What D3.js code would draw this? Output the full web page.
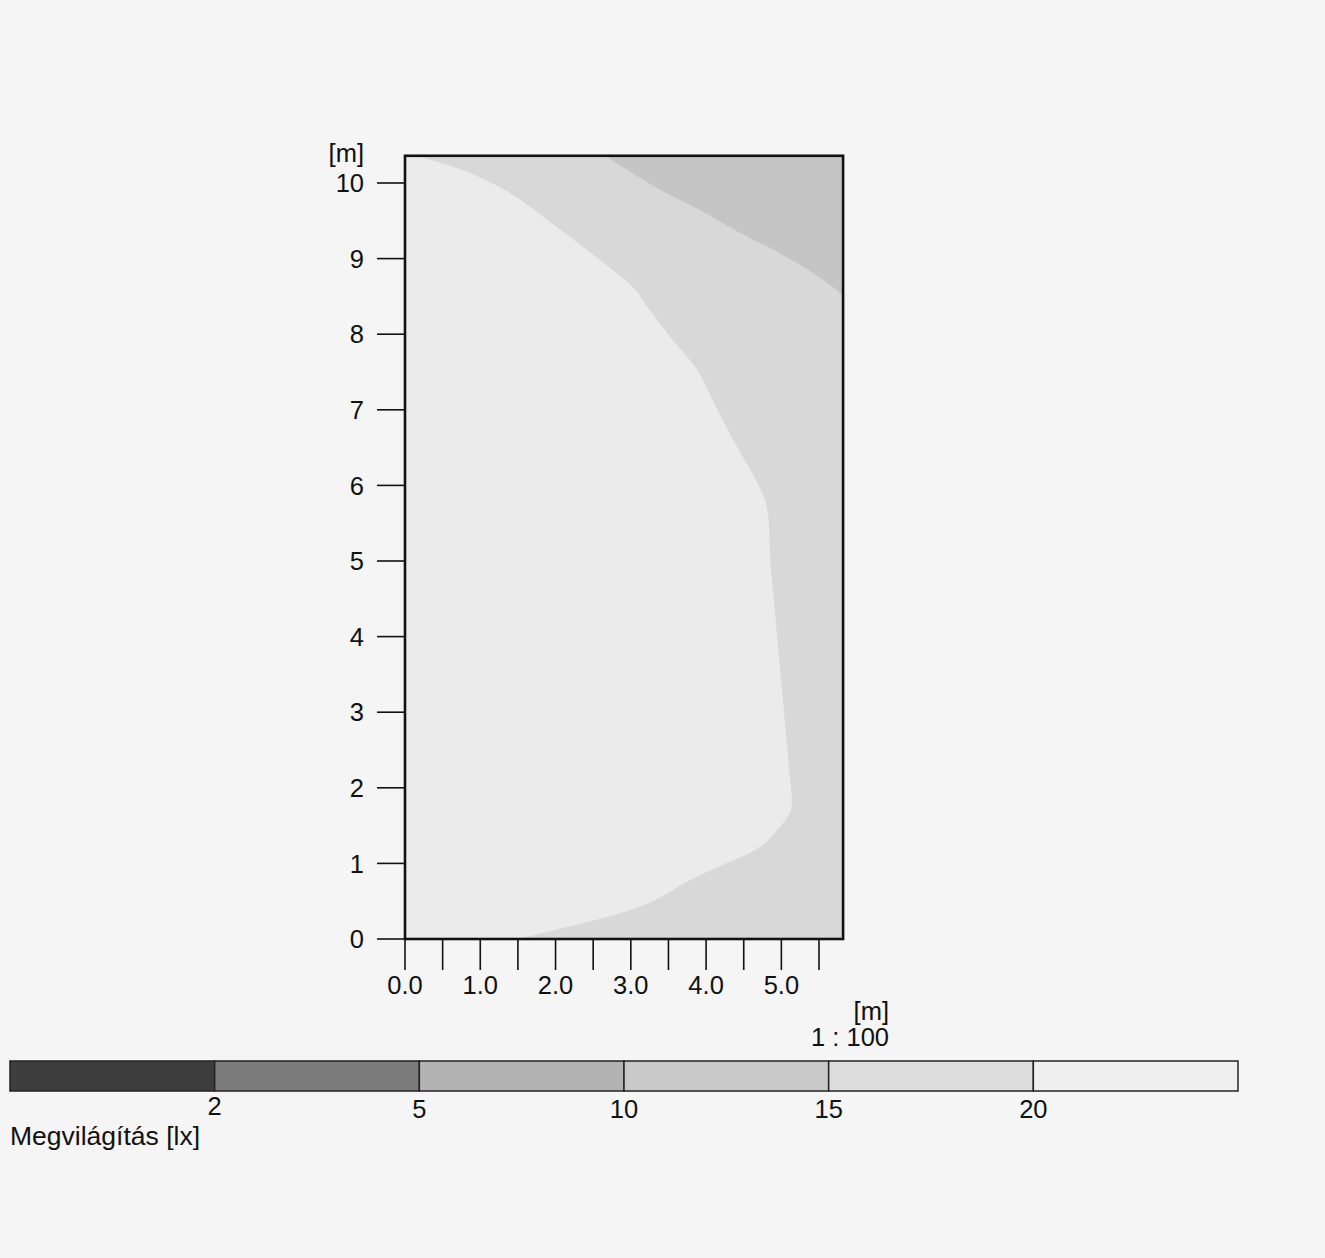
<!DOCTYPE html>
<html>
<head>
<meta charset="utf-8">
<script src="https://cdn.jsdelivr.net/npm/d3@7"></script>
<style>
  html, body { margin: 0; padding: 0; background: #f5f5f5; }
  svg { display: block; }
  text { font-family: "Liberation Sans", Arial, Helvetica, sans-serif; fill: #111; }
</style>
</head>
<body>
<svg id="chart" width="1325" height="1258"></svg>
<script>
// ---- data ----
const roomWidth = 5.82;   // m
const roomLength = 10.36; // m
const yTicks = [0, 1, 2, 3, 4, 5, 6, 7, 8, 9, 10];
const xTicks = [0, 0.5, 1, 1.5, 2, 2.5, 3, 3.5, 4, 4.5, 5, 5.5];
const xTickLabels = ["0.0", "1.0", "2.0", "3.0", "4.0", "5.0"];
const xLabelValues = [0, 1, 2, 3, 4, 5];

// isolux contour 20 lx (x, y in m)
const contour20 = [
  [0.15, 10.36], [0.82, 10.15], [1.39, 9.87], [1.93, 9.48], [2.42, 9.11],
  [3.03, 8.62], [3.22, 8.36], [3.56, 7.92], [3.88, 7.53], [4.15, 7.00],
  [4.41, 6.51], [4.66, 6.07], [4.80, 5.74], [4.86, 4.92], [4.94, 4.05],
  [5.02, 3.16], [5.10, 2.28], [5.13, 1.72], [5.02, 1.53], [4.72, 1.22],
  [4.15, 0.95], [3.79, 0.78], [3.25, 0.48], [2.68, 0.29], [2.15, 0.16],
  [1.50, 0.00]
];
// isolux contour 15 lx
const contour15 = [
  [2.66, 10.36], [2.75, 10.30], [3.39, 9.91], [3.92, 9.64], [4.45, 9.34],
  [4.98, 9.07], [5.42, 8.81], [5.74, 8.58], [5.82, 8.50]
];

const legendLevels = ["2", "5", "10", "15", "20"];
const legendColors = ["#3e3e3e", "#7b7b7b", "#b3b3b3", "#c9c9c9", "#dcdcdc", "#efefef"];
const plotColors = { band10_15: "#c5c5c5", band15_20: "#d8d8d8", band20: "#ebebeb" };

// ---- scales ----
const x = d3.scaleLinear().domain([0, 5.5]).range([405, 819]);
const y = d3.scaleLinear().domain([0, 10]).range([939, 183]);

const svg = d3.select("#chart");
const smooth = d3.line().x(d => x(d[0])).y(d => y(d[1])).curve(d3.curveCatmullRom.alpha(0.5));
const corners = pts => pts.map(p => "L" + x(p[0]) + "," + y(p[1])).join("") + "Z";

// background band (15-20)
svg.append("rect")
  .attr("x", x(0)).attr("y", y(roomLength))
  .attr("width", x(roomWidth) - x(0)).attr("height", y(0) - y(roomLength))
  .attr("fill", plotColors.band15_20);

// > 20 lx region
svg.append("path")
  .attr("d", smooth(contour20) + corners([[0, 0], [0, roomLength]]))
  .attr("fill", plotColors.band20);

// 10-15 lx region
svg.append("path")
  .attr("d", smooth(contour15) + corners([[roomWidth, roomLength]]))
  .attr("fill", plotColors.band10_15);

// room outline
svg.append("rect")
  .attr("x", x(0)).attr("y", y(roomLength))
  .attr("width", x(roomWidth) - x(0)).attr("height", y(0) - y(roomLength))
  .attr("fill", "none").attr("stroke", "#111").attr("stroke-width", 2.6);

// ---- y axis ----
const yAxis = svg.append("g");
yAxis.selectAll("line").data(yTicks).join("line")
  .attr("x1", 377).attr("x2", x(0))
  .attr("y1", d => y(d)).attr("y2", d => y(d))
  .attr("stroke", "#111").attr("stroke-width", 1.6);
yAxis.selectAll("text").data(yTicks).join("text")
  .attr("x", 364).attr("y", d => y(d)).attr("dy", "0.36em")
  .attr("text-anchor", "end").attr("font-size", 25.5)
  .text(d => d);
svg.append("text").attr("x", 364).attr("y", 162)
  .attr("text-anchor", "end").attr("font-size", 25.5).text("[m]");

// ---- x axis ----
const xAxis = svg.append("g");
xAxis.selectAll("line").data(xTicks).join("line")
  .attr("x1", d => x(d)).attr("x2", d => x(d))
  .attr("y1", y(0)).attr("y2", 970)
  .attr("stroke", "#111").attr("stroke-width", 1.6);
xAxis.selectAll("text").data(xLabelValues).join("text")
  .attr("x", d => x(d)).attr("y", 994)
  .attr("text-anchor", "middle").attr("font-size", 25.5)
  .text((d, i) => xTickLabels[i]);
svg.append("text").attr("x", 889).attr("y", 1020)
  .attr("text-anchor", "end").attr("font-size", 25.5).text("[m]");
svg.append("text").attr("x", 889).attr("y", 1046)
  .attr("text-anchor", "end").attr("font-size", 25.5).text("1 : 100");

// ---- legend ----
const lx = d3.scaleLinear().domain([0, legendColors.length]).range([10, 1238]);
const lg = svg.append("g");
lg.selectAll("rect").data(legendColors).join("rect")
  .attr("x", (d, i) => lx(i)).attr("y", 1061)
  .attr("width", (d, i) => lx(i + 1) - lx(i)).attr("height", 30)
  .attr("fill", d => d).attr("stroke", "#222").attr("stroke-width", 1.5);
lg.selectAll("text").data(legendLevels).join("text")
  .attr("x", (d, i) => lx(i + 1)).attr("y", (d, i) => i === 0 ? 1115 : 1118)
  .attr("text-anchor", "middle").attr("font-size", 25.5)
  .text(d => d);
svg.append("text").attr("x", 10).attr("y", 1145)
  .attr("font-size", 26.5).text("Megvilágítás [lx]");
</script>
</body>
</html>
